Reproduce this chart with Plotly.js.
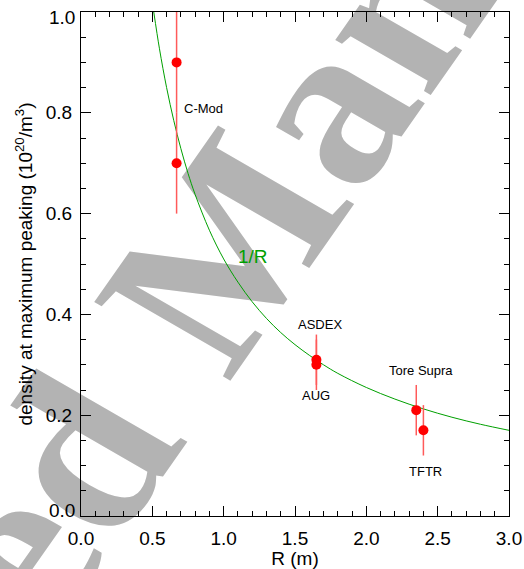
<!DOCTYPE html>
<html>
<head>
<meta charset="utf-8">
<script src="https://cdn.plot.ly/plotly-3.0.1.min.js"></script>
<style>
html,body{margin:0;padding:0;background:#fff;}
#wrap{position:relative;width:524px;height:569px;}
#wm{position:absolute;left:0;top:0;}
#chart{position:absolute;left:0;top:0;width:524px;height:569px;}
</style>
</head>
<body>
<div id="wrap">
<svg id="wm" width="524" height="569">
  <g transform="matrix(0.574,-0.819,0.866,0.5,228,384)" font-family="Liberation Serif" font-weight="bold" font-size="240" fill="#b3b3b3">
    <text x="-68" y="0" text-anchor="end">Accepted</text>
    <text x="0" y="0">Manuscript</text>
  </g>
</svg>
<div id="chart"></div>
</div>
<script>
// Data
var machines = ["C-Mod", "C-Mod", "ASDEX", "AUG", "Tore Supra", "TFTR"];
var majorRadius = [0.67, 0.67, 1.65, 1.65, 2.35, 2.40];
var peakDensity = [0.90, 0.70, 0.31, 0.30, 0.21, 0.17];
var densityErr = [0.10, 0.10, 0.05, 0.05, 0.05, 0.05];

// 1/R reference curve
var curveR = [0.51, 0.55, 0.60, 0.65, 0.70, 0.75, 0.80, 0.90, 1.00, 1.10, 1.20, 1.30, 1.40, 1.50, 1.60, 1.70, 1.80, 2.00, 2.20, 2.40, 2.60, 2.80, 3.00];
var curveN = [1.000, 0.927, 0.850, 0.785, 0.729, 0.680, 0.638, 0.567, 0.510, 0.464, 0.425, 0.392, 0.364, 0.340, 0.319, 0.300, 0.283, 0.255, 0.232, 0.2125, 0.196, 0.182, 0.170];

// Labels
var labelText = ["C-Mod", "ASDEX", "AUG", "Tore Supra", "TFTR"];
var labelX = [0.705, 1.677, 1.649, 2.383, 2.413];
var labelY = [0.809, 0.379, 0.240, 0.288, 0.089];
var labelAnchor = ["left", "center", "center", "center", "center"];
var curveLabel = "1/R";
var curveLabelX = 1.208, curveLabelY = 0.514;

var xTickVals = [0, 0.5, 1.0, 1.5, 2.0, 2.5, 3.0];
var xTickText = ["0.0", "0.5", "1.0", "1.5", "2.0", "2.5", "3.0"];
var yTickVals = [0, 0.2, 0.4, 0.6, 0.8, 1.0];
var yTickText = ["", "0.2", "0.4", "0.6", "0.8", ""];
var yEndLabels = ["0.0", "1.0"];
var yEndValues = [0, 1.0];

var traces = [
  {
    x: curveR, y: curveN, type: 'scatter', mode: 'lines',
    line: {color: '#00a000', width: 1, shape: 'spline'},
    hoverinfo: 'skip', cliponaxis: true
  },
  {
    x: majorRadius, y: peakDensity, type: 'scatter', mode: 'markers',
    text: machines,
    marker: {color: '#ff0000', size: 10},
    error_y: {type: 'data', array: densityErr, visible: true, color: '#ff5a5a', thickness: 1.5, width: 0},
    cliponaxis: false
  }
];

var FONT = 'Liberation Sans, Arial, sans-serif';
var annotations = [];
for (var i = 0; i < labelText.length; i++) {
  annotations.push({
    x: labelX[i], y: labelY[i], xref: 'x', yref: 'y', text: labelText[i],
    showarrow: false, xanchor: labelAnchor[i], yanchor: 'middle',
    font: {family: FONT, size: 13, color: '#000'}
  });
}
annotations.push({
  x: curveLabelX, y: curveLabelY, xref: 'x', yref: 'y', text: curveLabel,
  showarrow: false, xanchor: 'center', yanchor: 'middle',
  font: {family: FONT, size: 19, color: '#00a000'}
});
// end tick labels of the y axis (nudged inward as in the reference)
annotations.push({
  x: 0, y: yEndValues[0], xref: 'paper', yref: 'y', text: yEndLabels[0],
  showarrow: false, xanchor: 'right', yanchor: 'middle', xshift: -4, yshift: 6,
  font: {family: FONT, size: 19, color: '#000'}
});
annotations.push({
  x: 0, y: yEndValues[1], xref: 'paper', yref: 'y', text: yEndLabels[1],
  showarrow: false, xanchor: 'right', yanchor: 'middle', xshift: -4, yshift: -5,
  font: {family: FONT, size: 19, color: '#000'}
});

var axisFont = {family: FONT, size: 19, color: '#000'};

var layout = {
  width: 524, height: 569,
  margin: {l: 81, r: 15, t: 12, b: 53, pad: 0},
  paper_bgcolor: 'rgba(0,0,0,0)',
  plot_bgcolor: 'rgba(0,0,0,0)',
  showlegend: false,
  font: {family: FONT, color: '#000'},
  xaxis: {
    range: [0, 3.0], tickvals: xTickVals, ticktext: xTickText,
    ticks: 'inside', ticklen: 10, tickwidth: 1, tickcolor: '#000',
    minor: {dtick: 0.1, ticks: 'inside', ticklen: 5, tickwidth: 1, tickcolor: '#000'},
    showline: true, linecolor: '#000', linewidth: 1, mirror: 'ticks',
    showgrid: false, zeroline: false,
    tickfont: axisFont, ticklabelstandoff: 5,
    title: {text: 'R (m)', font: {family: FONT, size: 19, color: '#000'}, standoff: 0}
  },
  yaxis: {
    range: [0, 1.0], tickvals: yTickVals, ticktext: yTickText,
    ticks: 'inside', ticklen: 10, tickwidth: 1, tickcolor: '#000',
    minor: {dtick: 0.05, ticks: 'inside', ticklen: 5, tickwidth: 1, tickcolor: '#000'},
    showline: true, linecolor: '#000', linewidth: 1, mirror: 'ticks',
    showgrid: false, zeroline: false,
    tickfont: axisFont, ticklabelstandoff: 4,
    title: {text: 'density at maximum peaking (10<sup>20</sup>/m<sup>3</sup>)', font: {family: FONT, size: 19, color: '#000'}, standoff: 8}
  },
  annotations: annotations
};

Plotly.newPlot('chart', traces, layout, {displayModeBar: false, staticPlot: true});
</script>
</body>
</html>
